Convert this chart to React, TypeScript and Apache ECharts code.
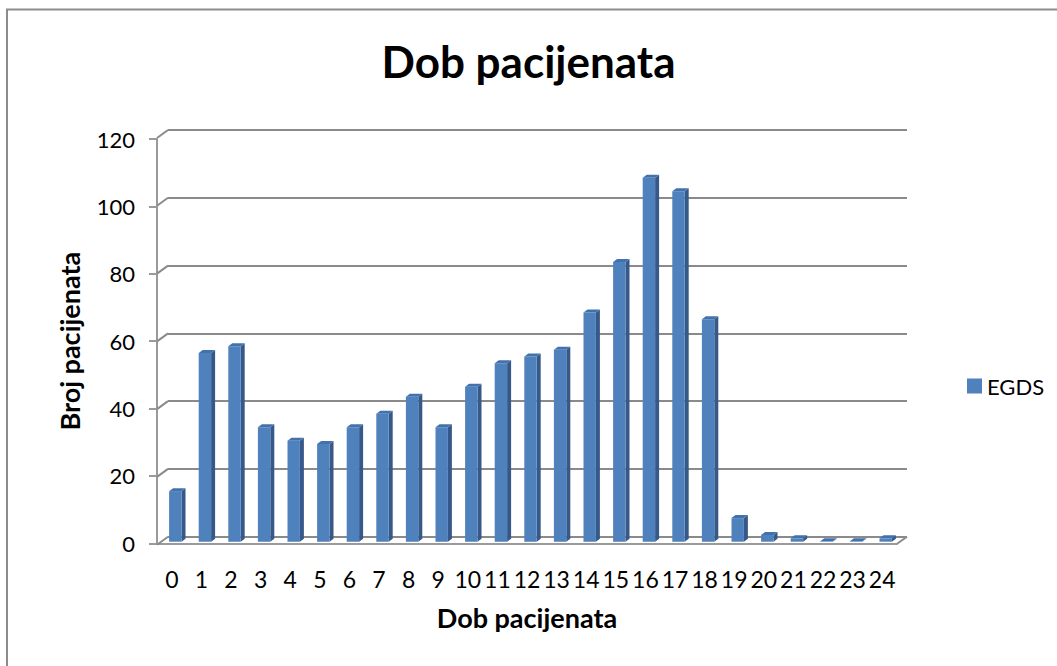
import React, { useEffect, useRef } from "react";
import * as echarts from "echarts";

const categories = ["0","1","2","3","4","5","6","7","8","9","10","11","12","13","14","15","16","17","18","19","20","21","22","23","24"];
const egds = [15,56,58,34,30,29,34,38,43,34,46,53,55,57,68,83,108,104,66,7,2,1,0,0,1];
const yTicks = [0,20,40,60,80,100,120];

const FONT = "Lato, 'Open Sans', sans-serif";
const GRID_COLOR = "#8a8a8a";
const AXIS_COLOR = "#9a9a9a";

export default function App() {
  const ref = useRef<HTMLDivElement>(null);
  useEffect(() => {
    const chart = echarts.init(ref.current!, null, { renderer: "svg" });
    chart.setOption({
      animation: false,
      backgroundColor: "#ffffff",
      textStyle: { fontFamily: FONT },
      title: {
        text: "Dob pacijenata",
        left: "center",
        top: 34,
        textStyle: { fontSize: 44, fontWeight: "bold", color: "#000", fontFamily: FONT },
      },
      legend: {
        data: [{ name: "EGDS", icon: "rect" }],
        orient: "vertical",
        left: 962,
        top: 370,
        itemWidth: 15,
        itemHeight: 15,
        itemGap: 6,
        textStyle: { fontSize: 22, color: "#000", fontFamily: FONT },
      },
      graphic: [
        {
          type: "rect",
          shape: { x: 7, y: 9.5, width: 1200, height: 800 },
          style: { fill: "none", stroke: "#8c8c8c", lineWidth: 2 },
          silent: true,
        },
      ],
      grid: [
        { left: 168, right: 150, top: 130, bottom: 129.3 },
        { left: 157, right: 160, top: 139, bottom: 122.7 },
      ],
      xAxis: [
        { gridIndex: 0, type: "value", min: 0, max: 1, show: false },
        {
          gridIndex: 1,
          type: "category",
          data: categories,
          axisLine: { show: true, lineStyle: { color: AXIS_COLOR, width: 2 } },
          axisTick: { show: false },
          axisLabel: { fontSize: 23, color: "#000", margin: 24, interval: 0, fontFamily: FONT },
          name: "Dob pacijenata",
          nameLocation: "middle",
          nameGap: 61,
          nameTextStyle: { fontSize: 27, fontWeight: "bold", color: "#000", fontFamily: FONT },
        },
      ],
      yAxis: [
        {
          gridIndex: 0,
          type: "value",
          min: 0,
          max: 120,
          interval: 20,
          axisLine: { show: false },
          axisTick: { show: false },
          axisLabel: { show: false },
          splitLine: { show: true, lineStyle: { color: GRID_COLOR, width: 2 } },
        },
        {
          gridIndex: 1,
          type: "value",
          min: 0,
          max: 120,
          interval: 20,
          axisLine: { show: true, lineStyle: { color: AXIS_COLOR, width: 2 } },
          axisTick: { show: true, length: 8, lineStyle: { color: AXIS_COLOR, width: 2 } },
          axisLabel: { fontSize: 22, color: "#000", margin: 22, fontFamily: FONT },
          splitLine: { show: false },
          name: "Broj pacijenata",
          nameLocation: "middle",
          nameGap: 74,
          nameTextStyle: { fontSize: 27, fontWeight: "bold", color: "#000", fontFamily: FONT },
        },
      ],
      series: [
        {
          type: "custom",
          name: "walls",
          xAxisIndex: 0,
          yAxisIndex: 0,
          silent: true,
          data: yTicks.map((t) => [0, t]),
          renderItem: (params: any, api: any) => {
            const t = api.value(1);
            const p = api.coord([0, t]);
            const children: any[] = [
              {
                type: "line",
                shape: { x1: p[0] - 11, y1: p[1] + 8, x2: p[0], y2: p[1] },
                style: { stroke: GRID_COLOR, lineWidth: 2 },
              },
            ];
            if (t === 0) {
              const q = api.coord([1, 0]);
              children.push({
                type: "line",
                shape: { x1: q[0] - 10, y1: q[1] + 7, x2: q[0], y2: q[1] },
                style: { stroke: GRID_COLOR, lineWidth: 2 },
              });
            }
            return { type: "group", children };
          },
        },
        {
          type: "custom",
          name: "EGDS",
          xAxisIndex: 1,
          yAxisIndex: 1,
          itemStyle: { color: "#4f81bd" },
          data: egds.map((v, i) => [i, v]),
          renderItem: (params: any, api: any) => {
            const i = api.value(0);
            const v = api.value(1);
            const top = api.coord([i, v]);
            const base = api.coord([i, 0]);
            const w = 12.4;
            const cx = top[0] + 3.5;
            const yb = base[1] - 1.6;
            const yt = Math.min(top[1] - 1.6, yb - 0.5);
            const x0 = cx - w / 2;
            const x1 = cx + w / 2;
            const dx = 4;
            const dy = -3;
            return {
              type: "group",
              children: [
                {
                  type: "polygon",
                  shape: { points: [[x1, yt], [x1 + dx, yt + dy], [x1 + dx, yb + dy], [x1, yb]] },
                  style: { fill: "#36598a" },
                },
                {
                  type: "rect",
                  shape: { x: x0, y: yt, width: w, height: yb - yt },
                  style: { fill: "#4f81bd" },
                },
                {
                  type: "polygon",
                  shape: { points: [[x0, yt], [x0 + dx, yt + dy], [x1 + dx, yt + dy], [x1, yt]] },
                  style: { fill: "#4172ad" },
                },
              ],
            };
          },
        },
      ],
    });
    return () => chart.dispose();
  }, []);
  return (
    <div
      ref={ref}
      style={{ position: "fixed", left: 0, top: 0, width: 1057, height: 666 }}
    />
  );
}
